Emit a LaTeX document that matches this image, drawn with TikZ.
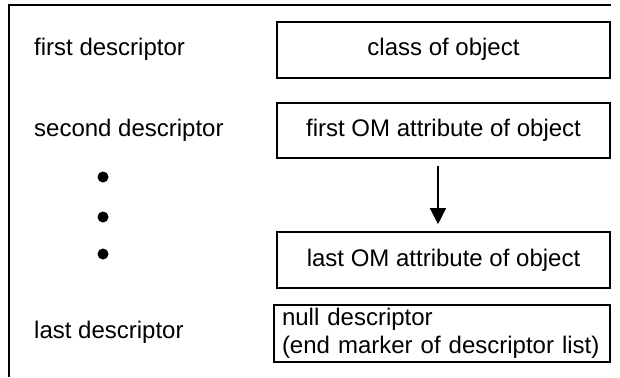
\documentclass[tikz,border=0pt]{standalone}
\usepackage{fontspec}
\setmainfont{Liberation Sans}
\usetikzlibrary{arrows.meta}
\begin{document}
\begin{tikzpicture}[x=1pt,y=-1pt,
  every node/.style={font=\fontsize{24}{28}\selectfont},
  box/.style={draw,line width=1.6pt,inner sep=0pt,minimum width=333pt,
     text height=17pt,text depth=5pt},
  lbl/.style={anchor=west,inner sep=0pt,text height=17pt,text depth=5pt},
  dotmark/.style={circle,fill=black,inner sep=0pt,minimum size=11pt},
  arr/.style={line width=1.3pt,-{Triangle[length=16pt,width=16pt]}}]
\useasboundingbox (0,0) rectangle (620,377);
% outer frame (top and left only)
\draw[line width=1.6pt] (9,377) -- (9,5) -- (611,5);
% boxes
\node[box,minimum height=56pt] (b1) at (443.5,50) {class of object};
\node[box,minimum height=55pt] (b2) at (443.5,130.5) {first OM attribute of object};
\node[box,minimum height=56pt] (b3) at (443.5,260) {last OM attribute of object};
\node[draw,line width=1.6pt,minimum height=57pt,inner xsep=8pt,inner ysep=0pt,
      text width=320pt,align=left] (b4) at (442,333.5)
      {null descriptor\\(end marker of descriptor list)};
% left labels
\node[lbl] (l1) at (34,50) {first descriptor};
\node[lbl] (l2) at (34,130.5) {second descriptor};
\node[lbl] (l3) at (34,332) {last descriptor};
% dots
\node[dotmark] (d1) at (103,177) {};
\node[dotmark] (d2) at (103,217) {};
\node[dotmark] (d3) at (103,254) {};
% arrow
\draw[arr,shorten <=7pt,shorten >=7pt] ([xshift=-5.5pt]b2.south) -- ([xshift=-5.5pt]b3.north);
\end{tikzpicture}
\end{document}
